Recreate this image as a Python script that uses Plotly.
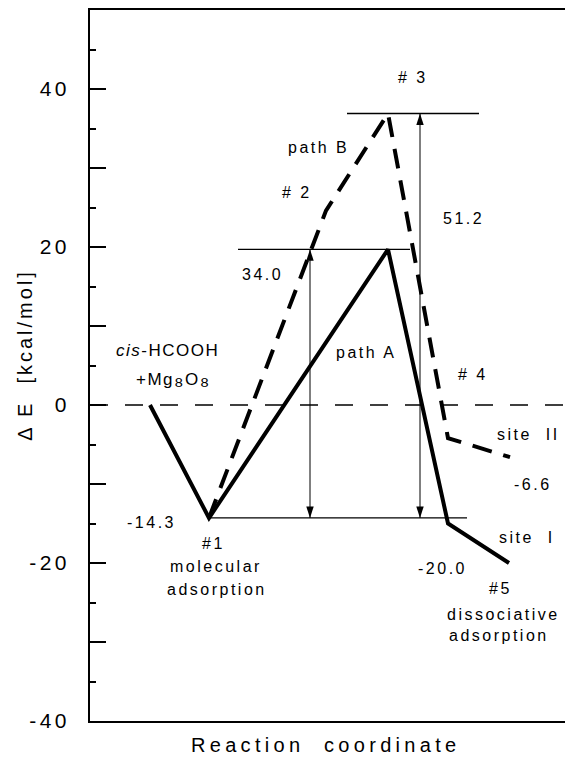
import plotly.graph_objects as go

# Reaction coordinate positions (arbitrary units) and energies (kcal/mol)
path_a_x = [6.0, 11.9, 29.8, 35.8, 41.9]
path_a_y = [0.0, -14.3, 19.7, -15.0, -20.0]
path_b_x = [11.9, 23.6, 29.8, 35.8, 42.0]
path_b_y = [-14.3, 24.6, 36.9, -4.2, -6.6]

# thin horizontal level markers: (level, x_from, x_to)
level_vals = [-14.3, 19.7, 36.9]
level_x0 = [11.9, 14.8, 25.7]
level_x1 = [37.7, 32.0, 38.9]

# barrier arrows: (x, from, to)
barrier_x = [22.0, 33.0]
barrier_lo = [-14.3, -14.3]
barrier_hi = [19.7, 36.9]

# y axis ticks
ylabel_vals = [-40, -20, 0, 20, 40]
ymajor_vals = [-40, -30, -20, -10, 0, 10, 20, 30, 40]

FONT = "Liberation Sans"


def sp(s, px=2.5):
    return f'<span style="letter-spacing:{px}px">{s}</span>'


def sub8():
    # enlarged Unicode subscript digit
    return '<span style="font-size:23px">\u2088</span>'


fig = go.Figure()

# dashed zero reference
fig.add_trace(go.Scatter(x=[0, 47.5], y=[0, 0], mode="lines",
                         line=dict(color="black", width=1.5, dash="18px,17px"),
                         hoverinfo="skip", showlegend=False))

# level lines
for v, a, b in zip(level_vals, level_x0, level_x1):
    fig.add_trace(go.Scatter(x=[a, b], y=[v, v], mode="lines",
                             line=dict(color="black", width=1.3),
                             hoverinfo="skip", showlegend=False))

# path B (dashed)
fig.add_trace(go.Scatter(x=path_b_x, y=path_b_y, mode="lines",
                         line=dict(color="black", width=4, dash="20px,12px"),
                         hoverinfo="skip", showlegend=False))
# path A (solid)
fig.add_trace(go.Scatter(x=path_a_x, y=path_a_y, mode="lines",
                         line=dict(color="black", width=4),
                         hoverinfo="skip", showlegend=False))

# double-headed barrier arrows: thin shaft plus narrow heads at both ends
for bx, lo, hi in zip(barrier_x, barrier_lo, barrier_hi):
    fig.add_trace(go.Scatter(x=[bx, bx], y=[lo, hi], mode="lines",
                             line=dict(color="black", width=1),
                             hoverinfo="skip", showlegend=False))
    fig.add_trace(go.Scatter(x=[bx, bx], y=[hi, lo], mode="markers",
                             marker=dict(symbol="arrow", size=12,
                                         angle=[0, 180], color="black",
                                         line=dict(width=0)),
                             hoverinfo="skip", showlegend=False))

# invisible trace that anchors the overlay axis carrying the long ticks
fig.add_trace(go.Scatter(x=[0], y=[0], yaxis="y2", mode="markers",
                         marker=dict(opacity=0), hoverinfo="skip",
                         showlegend=False))

labels = [
    (7.75, 6.85, "<i>cis</i>-HCOOH", 17, 1.5),
    (8.3, 3.5, "+Mg" + sub8() + "O" + sub8(), 17, 1.5),
    (6.15, -14.9, "-14.3", 16, 2.5),
    (12.3, -17.5, "#1", 16, 2.5),
    (12.55, -20.4, "molecular", 16, 2.5),
    (12.7, -23.3, "adsorption", 16, 2.5),
    (22.8, 32.6, "path B", 16, 2.5),
    (20.7, 26.9, "# 2", 16, 2.5),
    (32.3, 41.4, "# 3", 16, 2.5),
    (37.3, 23.6, "51.2", 16, 2.5),
    (17.2, 16.5, "34.0", 16, 2.5),
    (27.6, 6.6, "path A", 16, 2.5),
    (38.3, 3.9, "# 4", 16, 2.5),
    (43.8, -3.7, "site  II", 16, 2.5),
    (44.3, -10.0, "-6.6", 16, 2.5),
    (43.7, -16.8, "site  I", 16, 2.5),
    (35.2, -20.7, "-20.0", 16, 2.5),
    (41.0, -23.2, "#5", 16, 2.5),
    (41.3, -26.5, "dissociative", 16, 2.5),
    (40.9, -29.2, "adsorption", 16, 2.5),
]
for lx, ly, t, fs, ls in labels:
    fig.add_annotation(x=lx, y=ly, xref="x", yref="y",
                       text=sp(t.replace("  ", "\u00a0\u00a0"), ls),
                       showarrow=False, xanchor="center", yanchor="middle",
                       font=dict(family=FONT, size=fs, color="black"))

# axis titles
fig.add_annotation(x=0.495, y=0, xref="paper", yref="paper", yshift=-24,
                   text=sp("Reaction\u00a0\u00a0coordinate", 4.3), showarrow=False,
                   xanchor="center", yanchor="middle",
                   font=dict(family=FONT, size=20, color="black"))
fig.add_annotation(x=0, y=0.515, xref="paper", yref="paper", xshift=-65,
                   text=sp("\u0394 E\u00a0\u00a0[kcal/mol]", 3), showarrow=False,
                   textangle=-90, xanchor="center", yanchor="middle",
                   font=dict(family=FONT, size=20, color="black"))

fig.update_layout(
    width=565, height=759,
    margin=dict(l=90, r=0, t=10, b=38),
    paper_bgcolor="white", plot_bgcolor="white",
    showlegend=False,
    font=dict(family=FONT, color="black"),
    xaxis=dict(range=[0, 47.5], showgrid=False, zeroline=False,
               showticklabels=False, ticks="", showline=True,
               linecolor="black", linewidth=1.5, mirror=True),
    yaxis=dict(range=[-40, 50], showgrid=False, zeroline=False,
               tickmode="array", tickvals=ylabel_vals,
               ticktext=[sp(str(v), 3.5) for v in ylabel_vals],
               ticks="inside", ticklen=16, tickwidth=1.5, tickcolor="black",
               ticklabelstandoff=14,
               tickfont=dict(family=FONT, size=21, color="black"),
               showline=True, linecolor="black", linewidth=1.5,
               minor=dict(dtick=5, tick0=0, ticks="inside", ticklen=6,
                          tickwidth=1.5, tickcolor="black")),
    yaxis2=dict(range=[-40, 50], overlaying="y", side="left", anchor="x",
                showgrid=False, zeroline=False, showticklabels=False,
                tickmode="array", tickvals=ymajor_vals,
                ticks="inside", ticklen=16, tickwidth=1.5, tickcolor="black",
                showline=False),
)

fig.write_html("out.html")
